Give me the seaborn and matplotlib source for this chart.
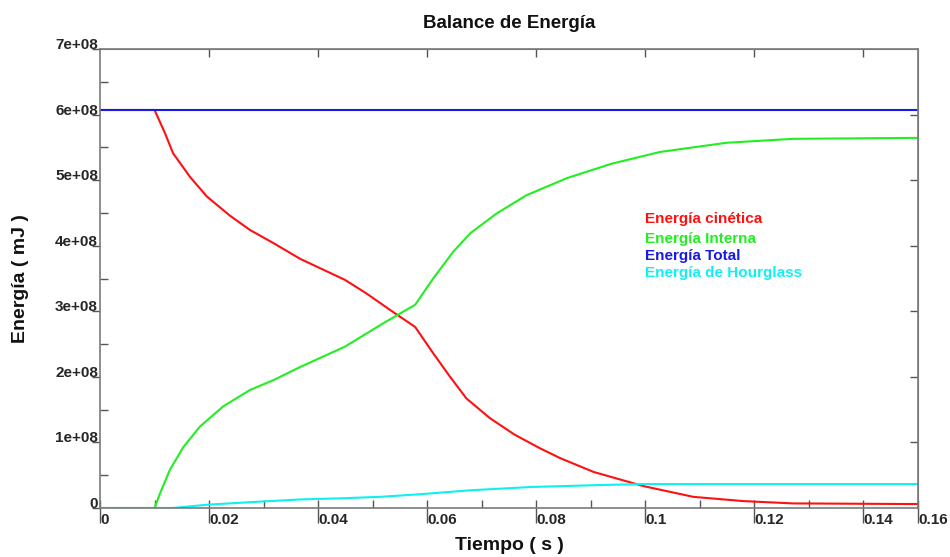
import numpy as np
import pandas as pd
import matplotlib
matplotlib.use("Agg")
import matplotlib.pyplot as plt
import seaborn as sns

# ---- data (energy in units of 1e8 mJ, time in s) ----
t_kin = [0.0, 0.0100, 0.0119, 0.0134, 0.0165, 0.0196, 0.0238, 0.0275, 0.0318, 0.0367,
         0.0449, 0.0489, 0.0532, 0.0578, 0.0611, 0.0642, 0.0672, 0.0715, 0.0760,
         0.0807, 0.0844, 0.0905, 0.0996, 0.1088, 0.118, 0.1271, 0.15]
e_kin = [6.07, 6.07, 5.72, 5.41, 5.05, 4.75, 4.46, 4.24, 4.04, 3.80,
         3.48, 3.27, 3.02, 2.76, 2.36, 2.00, 1.67, 1.37, 1.12,
         0.91, 0.76, 0.55, 0.335, 0.17, 0.105, 0.07, 0.06]

t_int = [0.0, 0.0100, 0.0110, 0.0128, 0.0153, 0.0183, 0.0226, 0.0275, 0.0318, 0.0367,
         0.0449, 0.0520, 0.0578, 0.0611, 0.0648, 0.0679, 0.0727, 0.0782, 0.0856,
         0.0938, 0.1027, 0.1149, 0.1271, 0.15]
e_int = [0.0, 0.0, 0.22, 0.58, 0.93, 1.24, 1.55, 1.80, 1.95, 2.15,
         2.46, 2.82, 3.10, 3.50, 3.91, 4.19, 4.49, 4.77, 5.03,
         5.25, 5.43, 5.57, 5.63, 5.645]

t_tot = [0.0, 0.05, 0.10, 0.15]
e_tot = [6.075, 6.075, 6.075, 6.075]

t_hg = [0.0, 0.0134, 0.0196, 0.0299, 0.0367, 0.0449, 0.0513, 0.0587, 0.0679, 0.0789,
        0.0917, 0.0996, 0.15]
e_hg = [0.0, 0.0, 0.05, 0.10, 0.13, 0.15, 0.17, 0.21, 0.27, 0.32, 0.35, 0.365, 0.365]

series_names = ["Energía cinética", "Energía Interna", "Energía Total", "Energía de Hourglass"]
series_colors = ["#ff1010", "#22ee22", "#1a1ae6", "#10f0f0"]

x_major = [0.0, 0.02, 0.04, 0.06, 0.08, 0.10, 0.12, 0.14, 0.15]
x_major_labels = ["0", "0.02", "0.04", "0.06", "0.08", "0.1", "0.12", "0.14", "0.16"]
x_minor = [0.01 * i for i in range(16)]
y_major = [0, 1, 2, 3, 4, 5, 6, 7]
y_major_labels = ["0", "1e+08", "2e+08", "3e+08", "4e+08", "5e+08", "6e+08", "7e+08"]
y_minor = [0.5, 1.5, 2.5, 3.5, 4.5, 5.5, 6.5]

frames = []
for name, t, e in [(series_names[0], t_kin, e_kin), (series_names[1], t_int, e_int),
                   (series_names[2], t_tot, e_tot), (series_names[3], t_hg, e_hg)]:
    frames.append(pd.DataFrame({"t": t, "E": np.array(e) * 1e8, "serie": name}))
df = pd.concat(frames, ignore_index=True)

sns.set_style("white")
plt.rcParams["font.family"] = ["Liberation Sans", "DejaVu Sans"]
plt.rcParams["font.weight"] = "bold"

fig = plt.figure(figsize=(9.5, 5.57), dpi=100)
ax = fig.add_axes([100 / 950, 1 - 508 / 557, 818 / 950, 459 / 557])

sns.lineplot(data=df, x="t", y="E", hue="serie", hue_order=series_names,
             palette=dict(zip(series_names, series_colors)), estimator=None,
             sort=False, linewidth=1.5, legend=False, ax=ax)

ax.set_xlim(0, 0.15)
ax.set_ylim(0, 7e8)

spine_col = "#7a7a7a"
tick_col = "#555555"
for s in ax.spines.values():
    s.set_color(spine_col)
    s.set_linewidth(1.2)

# x ticks
ax.xaxis.remove_overlapping_locs = False
ax.set_xticks(x_major)
ax.set_xticklabels(x_major_labels)
ax.set_xticks(x_minor, minor=True)
ax.tick_params(axis="x", which="major", direction="out", length=11, width=1.0,
               color=tick_col, labelsize=11, pad=-7.5, bottom=True, top=False)
ax.tick_params(axis="x", which="minor", direction="in", length=5.5, width=1.0,
               color=tick_col, bottom=True, top=False)
for lab in ax.get_xticklabels():
    lab.set_horizontalalignment("left")
    lab.set_fontweight("bold")

# y ticks
ax.set_yticks([v * 1e8 for v in y_major])
ax.set_yticklabels(y_major_labels)
ax.set_yticks([v * 1e8 for v in y_minor], minor=True)
ax.tick_params(axis="y", which="major", direction="out", length=6, width=1.0,
               color=tick_col, labelsize=11, pad=-4.5, left=True, right=False)
ax.tick_params(axis="y", which="minor", direction="in", length=5.5, width=1.0,
               color=tick_col, left=True, right=False)
for lab in ax.get_yticklabels():
    lab.set_verticalalignment("baseline")
    lab.set_fontweight("bold")

# top / right inward ticks
secx = ax.secondary_xaxis("top")
secx.set_xticks(x_major[1:-1])
secx.tick_params(direction="in", length=5.5, width=1.0, color=tick_col, labeltop=False)
secx.spines["top"].set_color(spine_col)
secy = ax.secondary_yaxis("right")
secy.set_yticks([v * 1e8 for v in y_major[1:-1]])
secy.tick_params(direction="in", length=5.5, width=1.0, color=tick_col, labelright=False)
secy.spines["right"].set_color(spine_col)

ax.set_title("Balance de Energía", fontsize=13.5, fontweight="bold", pad=15, color="#111111")
ax.set_xlabel("Tiempo ( s )", fontsize=14, fontweight="bold", color="#111111")
ax.set_ylabel("Energía ( mJ )", fontsize=14, fontweight="bold", color="#111111")
ax.xaxis.set_label_coords(0.5, -0.063)
ax.yaxis.set_label_coords(-0.087, 0.5)

# colored-text legend
leg_y = [4.41e8, 4.10e8, 3.84e8, 3.58e8]
for name, col, yy in zip(series_names, series_colors, leg_y):
    ax.text(0.1, yy, name, color=col, fontsize=11, fontweight="bold",
            va="center", ha="left")

fig.savefig("out.png", dpi=100)
